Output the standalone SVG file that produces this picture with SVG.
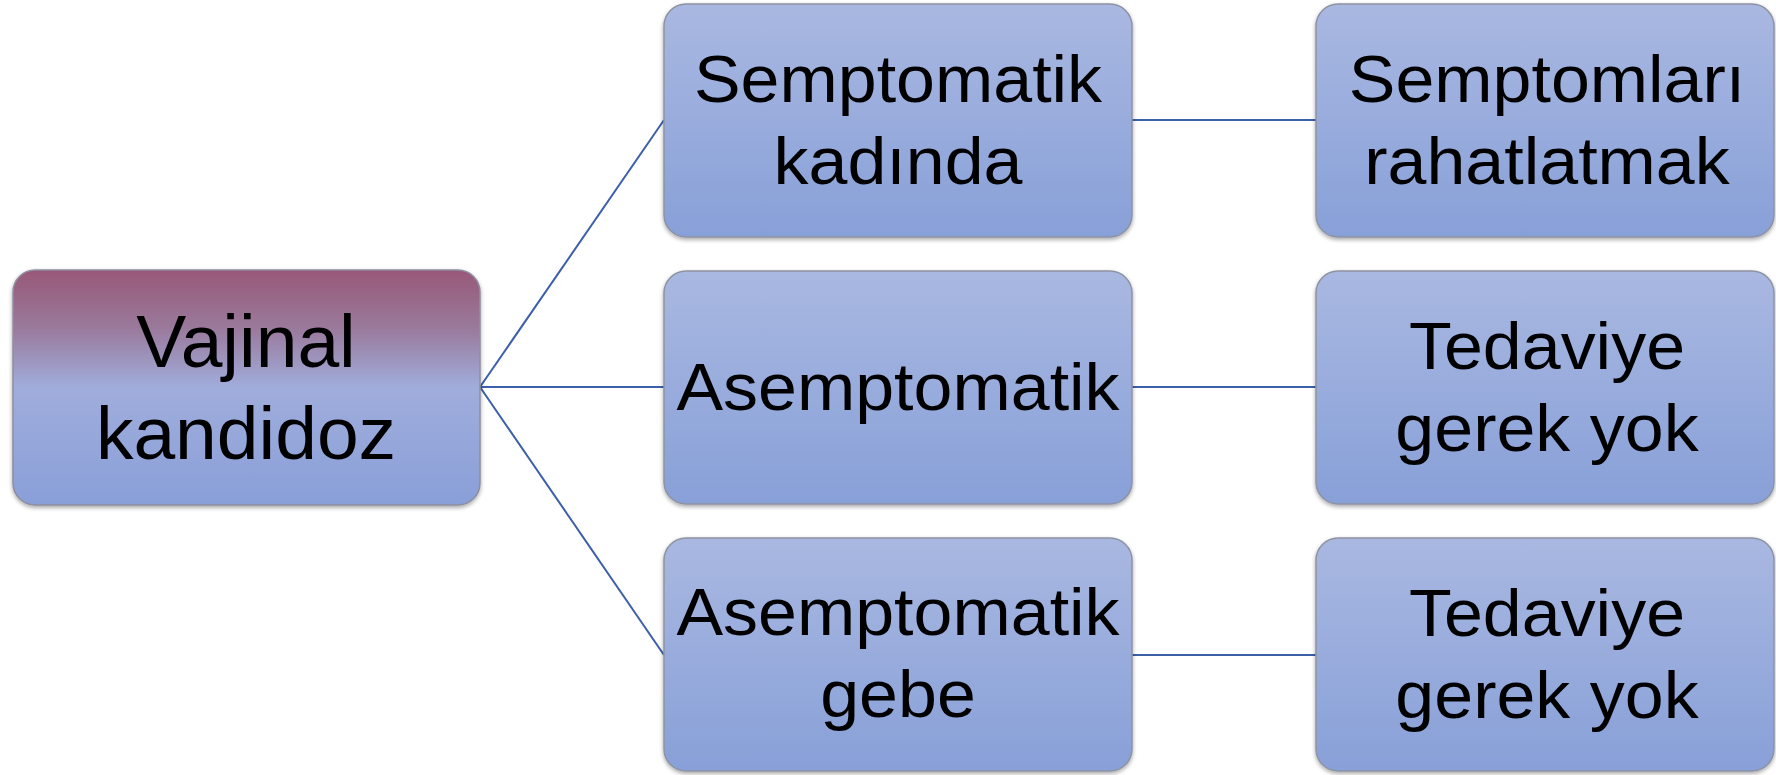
<svg xmlns="http://www.w3.org/2000/svg" width="1776" height="775" viewBox="0 0 1776 775">
<defs>
<linearGradient id="gBlue" x1="0" y1="0" x2="0" y2="1">
<stop offset="0" stop-color="#A9B8E1"/>
<stop offset="1" stop-color="#88A0D8"/>
</linearGradient>
<linearGradient id="gRoot" x1="0" y1="0" x2="0" y2="1">
<stop offset="0" stop-color="#985878"/>
<stop offset="0.25" stop-color="#9A7A9C"/>
<stop offset="0.5" stop-color="#A0ADDC"/>
<stop offset="1" stop-color="#899FD8"/>
</linearGradient>
<filter id="sh" x="-5%" y="-5%" width="110%" height="115%">
<feGaussianBlur in="SourceAlpha" stdDeviation="2"/>
<feOffset dx="0" dy="2"/>
<feComponentTransfer><feFuncA type="linear" slope="0.35"/></feComponentTransfer>
<feMerge><feMergeNode/><feMergeNode in="SourceGraphic"/></feMerge>
</filter>
</defs>
<style>
.box{fill:url(#gBlue);stroke:#8E93A3;stroke-width:1.5;filter:url(#sh)}
.root{fill:url(#gRoot);stroke:#8E8E9E;stroke-width:1.5;filter:url(#sh)}
.t{font-family:"Liberation Sans",Arial,sans-serif;font-size:66px;fill:#000;text-anchor:middle}
.tr{font-family:"Liberation Sans",Arial,sans-serif;font-size:75px;fill:#000;text-anchor:middle}
.c{stroke:#3C5FA8;stroke-width:2;fill:none}
</style>
<g id="connectors">
<line class="c" x1="480" y1="387" x2="664" y2="120"/>
<line class="c" x1="480" y1="387" x2="664" y2="387"/>
<line class="c" x1="480" y1="387" x2="664" y2="655"/>
<line class="c" x1="1132" y1="120" x2="1316" y2="120"/>
<line class="c" x1="1132" y1="387" x2="1316" y2="387"/>
<line class="c" x1="1132" y1="655" x2="1316" y2="655"/>
</g>
<g id="root">
<rect class="root" x="13" y="270" width="467" height="235" rx="22"/>
<text class="tr" x="246" y="367">Vajinal</text>
<text class="tr" x="246" y="459">kandidoz</text>
</g>
<g id="m1">
<rect class="box" x="664" y="4" width="468" height="233" rx="22"/>
<text class="t" transform="translate(898,102) scale(1.06,1)">Semptomatik</text>
<text class="t" transform="translate(898,184) scale(1.06,1)">kadında</text>
</g>
<g id="m2">
<rect class="box" x="664" y="271" width="468" height="233" rx="22"/>
<text class="t" transform="translate(898,410) scale(1.06,1)">Asemptomatik</text>
</g>
<g id="m3">
<rect class="box" x="664" y="538" width="468" height="233" rx="22"/>
<text class="t" transform="translate(898,635) scale(1.06,1)">Asemptomatik</text>
<text class="t" transform="translate(898,717) scale(1.06,1)">gebe</text>
</g>
<g id="r1">
<rect class="box" x="1316" y="4" width="458" height="233" rx="22"/>
<text class="t" transform="translate(1547,102) scale(1.06,1)">Semptomları</text>
<text class="t" transform="translate(1547,184) scale(1.06,1)">rahatlatmak</text>
</g>
<g id="r2">
<rect class="box" x="1316" y="271" width="458" height="233" rx="22"/>
<text class="t" transform="translate(1547,369) scale(1.06,1)">Tedaviye</text>
<text class="t" transform="translate(1547,451) scale(1.06,1)">gerek yok</text>
</g>
<g id="r3">
<rect class="box" x="1316" y="538" width="458" height="233" rx="22"/>
<text class="t" transform="translate(1547,636) scale(1.06,1)">Tedaviye</text>
<text class="t" transform="translate(1547,718) scale(1.06,1)">gerek yok</text>
</g>
</svg>
